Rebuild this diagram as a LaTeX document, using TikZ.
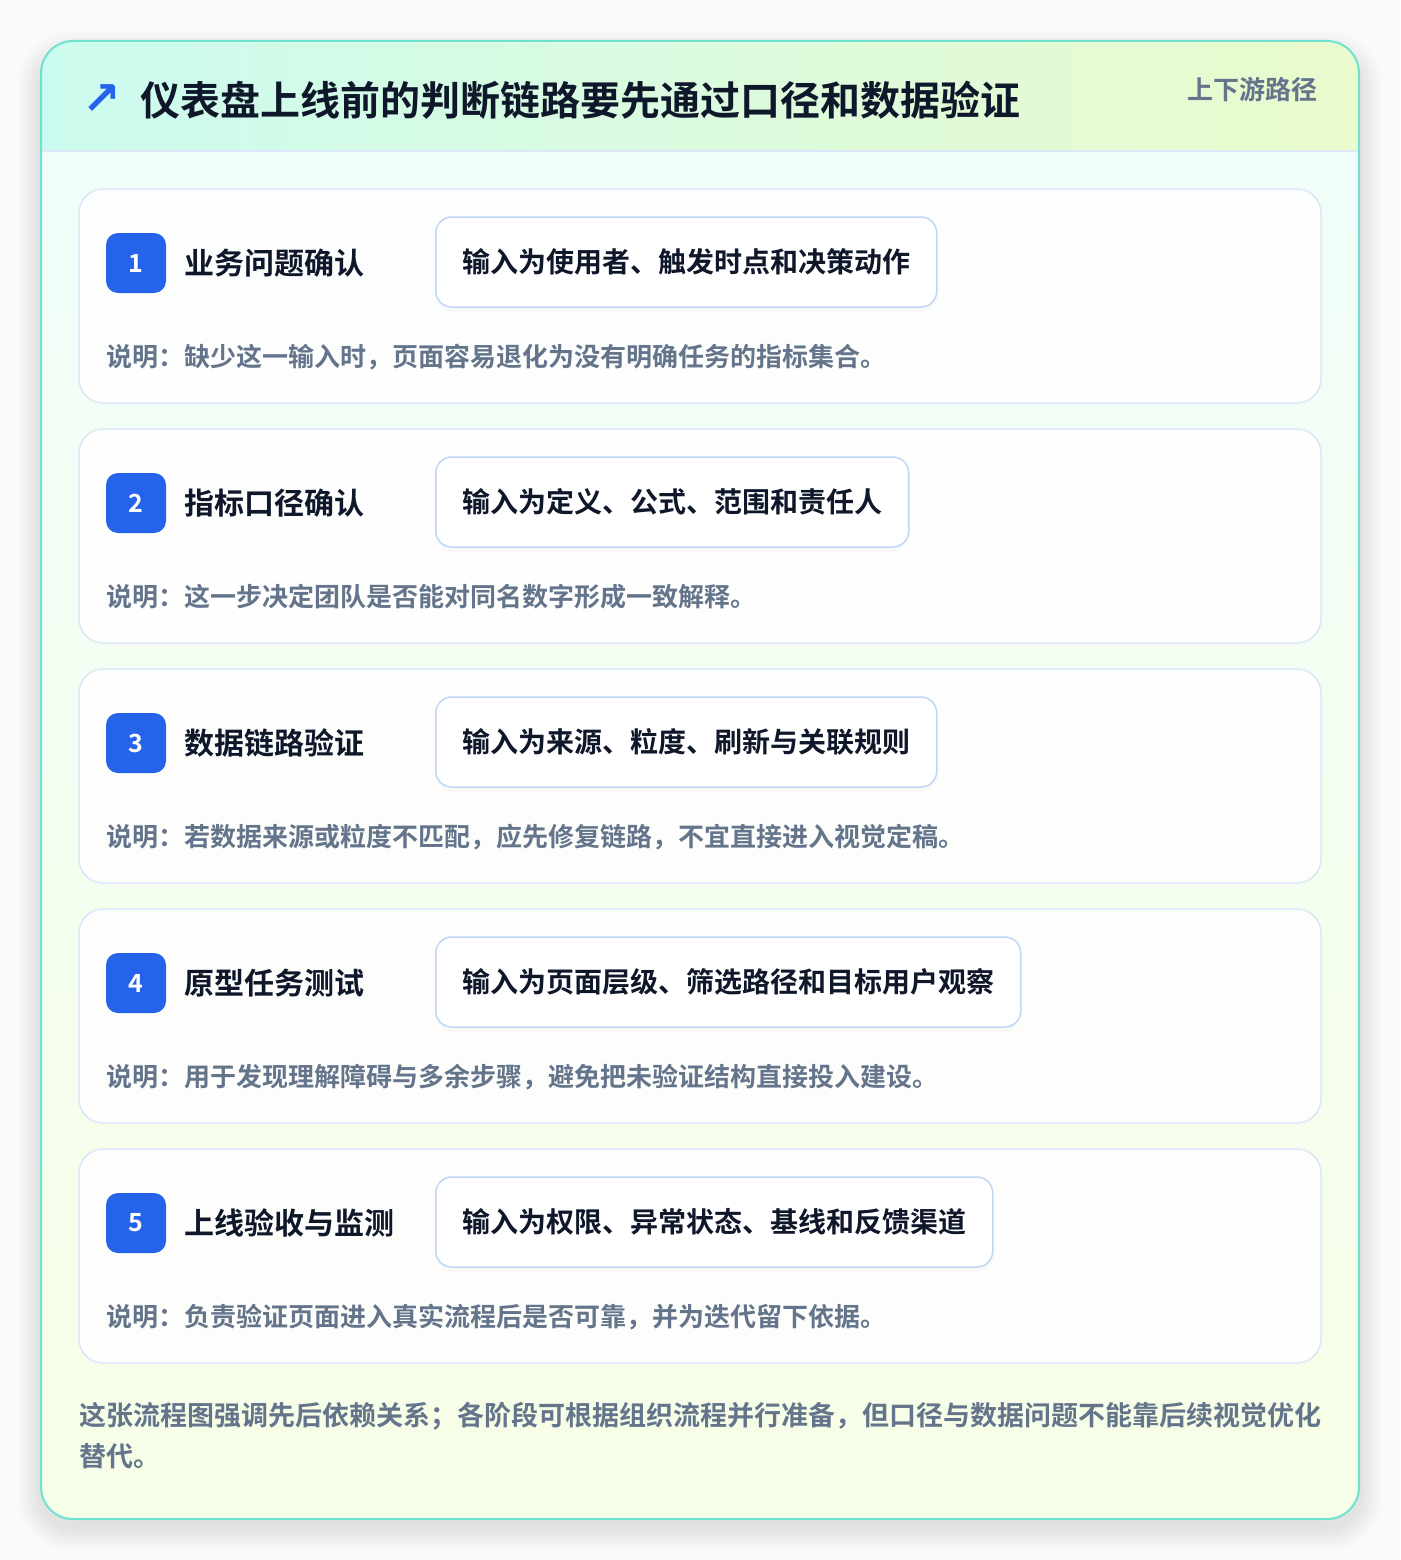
\documentclass[tikz,border=0pt]{standalone}
\usepackage{fontspec}
\setmainfont{Noto Sans CJK SC}[BoldFont={Noto Sans CJK SC Bold}]
\newfontfamily\symfont{DejaVu Sans}
\usetikzlibrary{positioning,shadows}

\definecolor{pagebg}{HTML}{FAFAFA}
\definecolor{inkdark}{HTML}{0F172A}
\definecolor{inkgray}{HTML}{64748B}
\definecolor{badgeblue}{HTML}{2563EB}
\definecolor{cardline}{HTML}{DCE8FA}
\definecolor{boxline}{HTML}{BFD7F5}
\definecolor{frameteal}{HTML}{6EE2CF}
\definecolor{headleft}{HTML}{CCFBEF}
\definecolor{headright}{HTML}{EAFBCD}
\definecolor{bodytop}{HTML}{F0FDFA}
\definecolor{bodybot}{HTML}{F7FEE7}

\begin{document}
\begin{tikzpicture}
    [x=1pt, y=-1pt,
     stepcard/.style={draw=cardline, line width=1.5pt, fill=white, fill opacity=0.85, rounded corners=24pt},
     badge/.style={fill=badgeblue, text=white, rounded corners=12pt, minimum size=60pt, inner sep=0pt, font=\bfseries\fontsize{25}{25}\selectfont},
     steptitle/.style={anchor=west, inner sep=0pt, text=inkdark, font=\bfseries\fontsize{30}{30}\selectfont},
     inputbox/.style={anchor=west, draw=boxline, line width=1.5pt, fill=white, rounded corners=16pt, minimum height=90pt, inner xsep=26.5pt, text=inkdark, font=\bfseries\fontsize{28}{28}\selectfont, drop shadow={shadow xshift=0pt, shadow yshift=-5pt, opacity=0.04}},
     note/.style={anchor=west, inner sep=0pt, text=inkgray, font=\bfseries\fontsize{26}{26}\selectfont}]
    \useasboundingbox (0,0) rectangle (1400,1560);
    \fill[pagebg] (0,0) rectangle (1400,1560);
    % soft shadow under the frame
    \foreach \s in {2,4,...,24}
        \fill[black, opacity=0.007, rounded corners=32+\s] (41-\s,41-\s+14) rectangle (1359+\s,1519+\s+8);
    % frame with header band
    \begin{scope}
    \clip[rounded corners=32pt] (41,41) rectangle (1359,1519);
    \shade[top color=bodytop, bottom color=bodybot] (41,41) rectangle (1359,1519);
    \shade[left color=headleft, right color=headright] (41,41) rectangle (1359,151);
    \end{scope}
    \draw[cardline, line width=1.5pt] (41,151) -- (1359,151);
    \draw[frameteal, line width=2pt, rounded corners=32pt] (41,41) rectangle (1359,1519);
    % header
    \node[text=badgeblue, inner sep=0pt, font=\symfont\bfseries\fontsize{46}{46}\selectfont] (icon) at (102,100) {↗};
    \node[anchor=west, inner sep=0pt, text=inkdark, font=\bfseries\fontsize{40}{40}\selectfont] (title) at (140,100) {仪表盘上线前的判断链路要先通过口径和数据验证};
    \node[anchor=east, inner sep=0pt, text=inkgray, font=\bfseries\fontsize{26}{26}\selectfont] (scope) at (1318,90) {上下游路径};
    % steps
    \foreach \n/\t/\i/\d [count=\k from 0] in {
        1/业务问题确认/输入为使用者、触发时点和决策动作/缺少这一输入时，页面容易退化为没有明确任务的指标集合。,
        2/指标口径确认/输入为定义、公式、范围和责任人/这一步决定团队是否能对同名数字形成一致解释。,
        3/数据链路验证/输入为来源、粒度、刷新与关联规则/若数据来源或粒度不匹配，应先修复链路，不宜直接进入视觉定稿。,
        4/原型任务测试/输入为页面层级、筛选路径和目标用户观察/用于发现理解障碍与多余步骤，避免把未验证结构直接投入建设。,
        5/上线验收与监测/输入为权限、异常状态、基线和反馈渠道/负责验证页面进入真实流程后是否可靠，并为迭代留下依据。}{
        \pgfmathsetmacro\top{189+240*\k}
        \draw[stepcard] (79,\top) rectangle (1321,\top+214);
        \node[badge] (b\n) at (136,\top+74) {\n};
        \node[steptitle] (t\n) at (184,\top+74) {\t};
        \node[inputbox] (i\n) at (435,\top+73) {\i};
        \node[note] (d\n) at (106,\top+168) {说明：\d};
    }
    % footer remark
    \node[anchor=north west, inner sep=0pt, align=left, text=inkgray, font=\bfseries\fontsize{27}{41}\selectfont] (remark) at (79,1402) {这张流程图强调先后依赖关系；各阶段可根据组织流程并行准备，但口径与数据问题不能靠后续视觉优化\\替代。};
\end{tikzpicture}
\end{document}
